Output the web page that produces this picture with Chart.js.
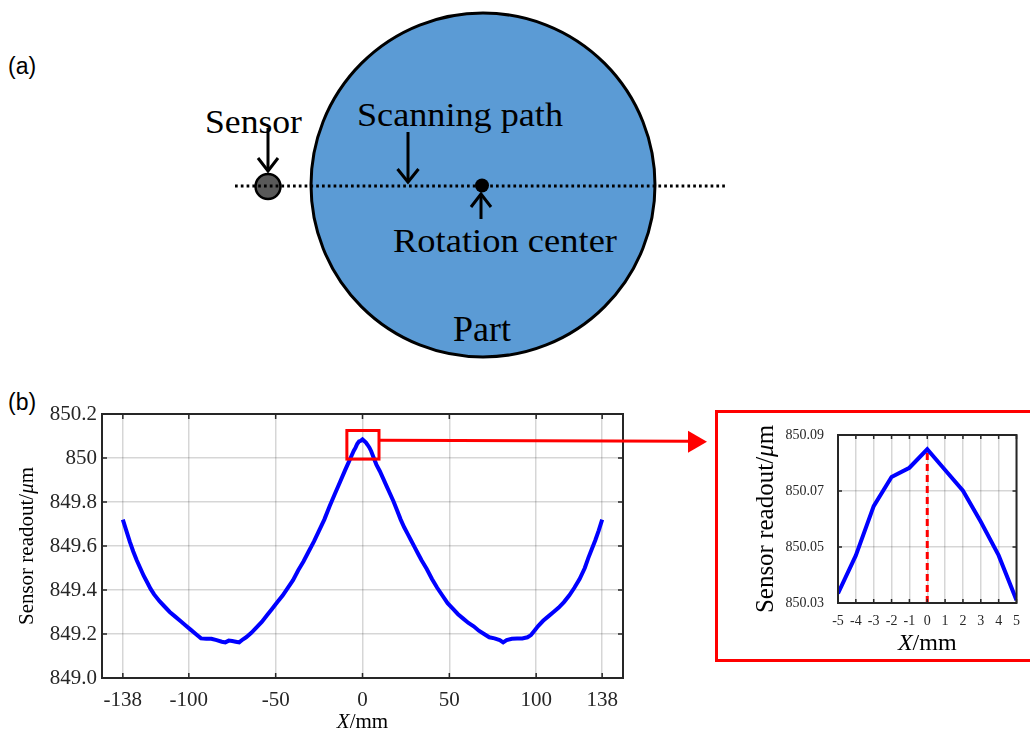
<!DOCTYPE html>
<html>
<head>
<meta charset="utf-8">
<script src="https://cdn.jsdelivr.net/npm/chart.js@4.4.1/dist/chart.umd.min.js"></script>
<style>
  html, body { margin: 0; padding: 0; background: #fff; overflow: hidden; }
  #wrap { position: relative; width: 1030px; height: 732px; }
  #sketch { position: absolute; left: 0; top: 0; }
  #zoomFrame { position: absolute; left: 715px; top: 410px; width: 340px; height: 252px;
               box-sizing: border-box; border: 3px solid #ff0000; }
  #main { position: absolute; left: 0; top: 380px; }
  #inset { position: absolute; left: 716px; top: 411px; }
</style>
</head>
<body>
<div id="wrap">
  <!-- (a) measurement setup -->
  <svg id="sketch" width="1030" height="732" font-family="Liberation Serif" fill="#000">
    <text x="8" y="74" font-family="Liberation Sans" font-size="23">(a)</text>
    <text x="8" y="410" font-family="Liberation Sans" font-size="23">(b)</text>

    <circle cx="483" cy="185" r="172" fill="#5b9bd5" stroke="#000" stroke-width="3"/>
    <circle cx="268" cy="186.5" r="12.5" fill="#595959" stroke="#000" stroke-width="2.5"/>
    <line x1="235" y1="186" x2="725" y2="186" stroke="#000" stroke-width="3" stroke-dasharray="2.7 3.1"/>
    <circle cx="482" cy="185.5" r="7" fill="#000"/>

    <g stroke="#000" stroke-width="3" fill="none">
      <line x1="268" y1="128" x2="268" y2="171"/>
      <polyline points="258,158 268,171 278,158"/>
      <line x1="408" y1="132" x2="408" y2="182"/>
      <polyline points="397.5,169 408,182 418.5,169"/>
      <line x1="481" y1="219" x2="481" y2="194"/>
      <polyline points="471,207 481,194 491,207"/>
    </g>

    <text x="205" y="133" font-size="33" textLength="97" lengthAdjust="spacingAndGlyphs">Sensor</text>
    <text x="357" y="126" font-size="34" textLength="206" lengthAdjust="spacingAndGlyphs">Scanning path</text>
    <text x="393" y="252" font-size="34" textLength="224" lengthAdjust="spacingAndGlyphs">Rotation center</text>
    <text x="453" y="341" font-size="35" textLength="58" lengthAdjust="spacingAndGlyphs">Part</text>
  </svg>

  <div id="zoomFrame"></div>
  <canvas id="main" width="716" height="352"></canvas>
  <canvas id="inset" width="314" height="259"></canvas>
</div>

<script>
// full scan across the part, readout in micrometres
const scanX = [
  -138, -136, -134, -132, -130, -128, -126, -124, -122, -120, -117, -114, -111, -108,
  -105, -102, -99, -96, -93, -90, -87, -84, -81, -79, -77, -75, -73, -71, -69, -67,
  -64, -61, -58, -55, -52, -49, -46, -43, -40, -37, -34, -31, -28, -25, -22, -19,
  -16, -13, -10, -8, -7, -6,
  -5, -4, -3, -2, -1, 0, 1, 2, 3, 4, 5,
  7, 8, 10, 12, 14, 16, 18, 20, 22, 24, 26, 28, 30, 32, 34, 37, 40, 43, 46, 49,
  52, 55, 58, 61, 64, 67, 70, 73, 76, 79, 81, 83, 86, 89, 92, 95, 97, 99, 101,
  104, 107, 110, 113, 116, 119, 122, 125, 128, 130, 132, 134, 136, 138
];
const scanReadout = [
  849.72, 849.67, 849.62, 849.575, 849.535, 849.50, 849.465, 849.435, 849.405, 849.38,
  849.35, 849.325, 849.30, 849.28, 849.26, 849.24, 849.22, 849.20, 849.18, 849.178,
  849.178, 849.172, 849.165, 849.162, 849.17, 849.168, 849.165, 849.162, 849.175, 849.185,
  849.205, 849.23, 849.255, 849.285, 849.315, 849.345, 849.375, 849.41, 849.445, 849.49,
  849.53, 849.575, 849.62, 849.67, 849.72, 849.78, 849.835, 849.89, 849.945, 849.98,
  849.998, 850.016,
  850.0334, 850.047, 850.0646, 850.075, 850.0783, 850.0849, 850.0775, 850.0701, 850.059, 850.047, 850.031,
  849.99, 849.97, 849.94, 849.905, 849.87, 849.835, 849.80, 849.76, 849.72, 849.685,
  849.655, 849.625, 849.595, 849.565, 849.535, 849.495, 849.45, 849.41, 849.375, 849.34,
  849.315, 849.29, 849.27, 849.25, 849.235, 849.215, 849.20, 849.185, 849.18, 849.172,
  849.162, 849.172, 849.178, 849.18, 849.18, 849.185, 849.195, 849.215, 849.235,
  849.26, 849.28, 849.30, 849.32, 849.345, 849.375, 849.41, 849.45, 849.50, 849.545,
  849.585, 849.625, 849.67, 849.72
];
const scanXTicks = [-138, -100, -50, 0, 50, 100, 138];
const scanYTicks = [849.0, 849.2, 849.4, 849.6, 849.8, 850.0, 850.2];
const scanYLabels = ['849.0', '849.2', '849.4', '849.6', '849.8', '850', '850.2'];

// enlarged window around the rotation centre
const zoomBoxX = [-9, 9.5];
const zoomBoxY = [849.995, 850.125];
const insetX = [-5, -4, -3, -2, -1, 0, 1, 2, 3, 4, 5];
const insetReadout = [850.0334, 850.047, 850.0646, 850.075, 850.0783, 850.0849,
                      850.0775, 850.0701, 850.059, 850.047, 850.031];
const insetYTicks = [850.03, 850.05, 850.07, 850.09];
const insetYLabels = ['850.03', '850.05', '850.07', '850.09'];
const peakMarkX = [0, 0];
const peakMarkY = [850.03, 850.0849];

const SERIF = '"Liberation Serif", "Times New Roman", serif';
const INK = '#262626';
const GRID = 'rgba(0,0,0,0.16)';

function pts(xs, ys) { return xs.map((x, i) => ({ x: x, y: ys[i] })) }

// draw a label made of pieces with their own style (italic X, mu...)
function drawRich(ctx, parts, cx, cy, rot, size, baseline) {
  ctx.save()
  ctx.translate(cx, cy)
  ctx.rotate(rot)
  const fonts = parts.map(p => (p.italic ? 'italic ' : '') + size + 'px ' + SERIF)
  const widths = parts.map((p, i) => { ctx.font = fonts[i]; return ctx.measureText(p.text).width })
  let xx = -widths.reduce((s, w) => s + w, 0) / 2
  ctx.textAlign = 'left'
  ctx.textBaseline = baseline
  ctx.fillStyle = '#000'
  parts.forEach((p, i) => {
    ctx.font = fonts[i]
    ctx.fillText(p.text, xx, 0)
    xx += widths[i]
  })
  ctx.restore()
}

// box around the axes, inward ticks on every side, and the axis titles
const matlabAxes = {
  id: 'matlabAxes',
  afterDraw(chart, args, opts) {
    const { ctx, chartArea: a, scales: { x, y } } = chart
    ctx.save()
    ctx.strokeStyle = INK
    ctx.lineWidth = 1.5
    ctx.beginPath()
    x.ticks.forEach(t => {
      const px = x.getPixelForValue(t.value)
      ctx.moveTo(px, a.bottom); ctx.lineTo(px, a.bottom - opts.tickLen)
      ctx.moveTo(px, a.top); ctx.lineTo(px, a.top + opts.tickLen)
    })
    y.ticks.forEach(t => {
      const py = y.getPixelForValue(t.value)
      ctx.moveTo(a.left, py); ctx.lineTo(a.left + opts.tickLen, py)
      ctx.moveTo(a.right, py); ctx.lineTo(a.right - opts.tickLen, py)
    })
    ctx.stroke()
    ctx.lineWidth = 2
    ctx.strokeRect(a.left, a.top, a.right - a.left, a.bottom - a.top)
    ctx.restore()

    drawRich(ctx, opts.xTitle, (a.left + a.right) / 2, a.bottom + opts.xTitleOffset, 0, opts.xTitleSize, 'alphabetic')
    drawRich(ctx, opts.yTitle, a.left - opts.yTitleOffset, (a.top + a.bottom) / 2, -Math.PI / 2, opts.yTitleSize, 'middle')
  }
}

// red window on the main curve and the arrow pointing to the inset
const zoomMarker = {
  id: 'zoomMarker',
  afterDraw(chart) {
    const { ctx, scales: { x, y } } = chart
    const x0 = x.getPixelForValue(zoomBoxX[0]), x1 = x.getPixelForValue(zoomBoxX[1])
    const y0 = y.getPixelForValue(zoomBoxY[1]), y1 = y.getPixelForValue(zoomBoxY[0])
    const ya = y.getPixelForValue(Math.max(...insetReadout)) + 1
    ctx.save()
    ctx.strokeStyle = '#ff0000'
    ctx.fillStyle = '#ff0000'
    ctx.lineWidth = 3
    ctx.strokeRect(x0, y0, x1 - x0, y1 - y0)
    ctx.beginPath()
    ctx.moveTo(x1, ya)
    ctx.lineTo(690, ya + 1)
    ctx.stroke()
    ctx.beginPath()
    ctx.moveTo(688, ya - 9.5)
    ctx.lineTo(707, ya + 1.5)
    ctx.lineTo(688, ya + 12.5)
    ctx.closePath()
    ctx.fill()
    ctx.restore()
  }
}

function axis(min, max, ticks, labels, size, padding, fit) {
  return {
    type: 'linear', min: min, max: max,
    afterBuildTicks: s => { s.ticks = ticks.map(v => ({ value: v })) },
    afterFit: fit,
    grid: { color: GRID, lineWidth: 1.5, drawTicks: false },
    border: { display: false },
    ticks: {
      autoSkip: false, maxRotation: 0, padding: padding, color: INK,
      font: { family: SERIF, size: size },
      callback: (v, i) => labels ? labels[i] : String(v)
    }
  }
}

Chart.defaults.animation = false

new Chart(document.getElementById('main'), {
  type: 'line',
  data: {
    datasets: [{
      data: pts(scanX, scanReadout),
      borderColor: '#0000ff', borderWidth: 4,
      pointRadius: 0, tension: 0, fill: false
    }]
  },
  options: {
    responsive: false,
    events: [],
    layout: { padding: { left: 0, top: 34, right: 93, bottom: 0 } },
    scales: {
      x: axis(-150, 150, scanXTicks, null, 21, 10, s => { s.height = 54 }),
      y: axis(849.0, 850.2, scanYTicks, scanYLabels, 21, 5, s => { s.width = 102 })
    },
    plugins: {
      legend: { display: false },
      tooltip: { enabled: false },
      matlabAxes: {
        tickLen: 5,
        xTitle: [{ text: 'X', italic: true }, { text: '/mm' }], xTitleSize: 21, xTitleOffset: 50,
        yTitle: [{ text: 'Sensor readout/' }, { text: 'μ', italic: true }, { text: 'm' }], yTitleSize: 21, yTitleOffset: 75
      }
    }
  },
  plugins: [matlabAxes, zoomMarker]
})

new Chart(document.getElementById('inset'), {
  type: 'line',
  data: {
    datasets: [{
      data: pts(insetX, insetReadout),
      borderColor: '#0000ff', borderWidth: 4,
      pointRadius: 0, tension: 0, fill: false
    }, {
      data: pts(peakMarkX, peakMarkY),
      borderColor: '#ff0000', borderWidth: 3, borderDash: [7, 4],
      pointRadius: 0, fill: false
    }]
  },
  options: {
    responsive: false,
    events: [],
    layout: { padding: { left: 0, top: 24, right: 7, bottom: 0 } },
    scales: {
      x: axis(-5, 5, insetX, null, 14, 10, s => { s.height = 67 }),
      y: axis(850.03, 850.09, insetYTicks, insetYLabels, 14, 14, s => { s.width = 122 })
    },
    plugins: {
      legend: { display: false },
      tooltip: { enabled: false },
      matlabAxes: {
        tickLen: 4,
        xTitle: [{ text: 'X', italic: true }, { text: '/mm' }], xTitleSize: 24, xTitleOffset: 47,
        yTitle: [{ text: 'Sensor readout/' }, { text: 'μ', italic: true }, { text: 'm' }], yTitleSize: 25, yTitleOffset: 72
      }
    }
  },
  plugins: [matlabAxes]
})
</script>
</body>
</html>
